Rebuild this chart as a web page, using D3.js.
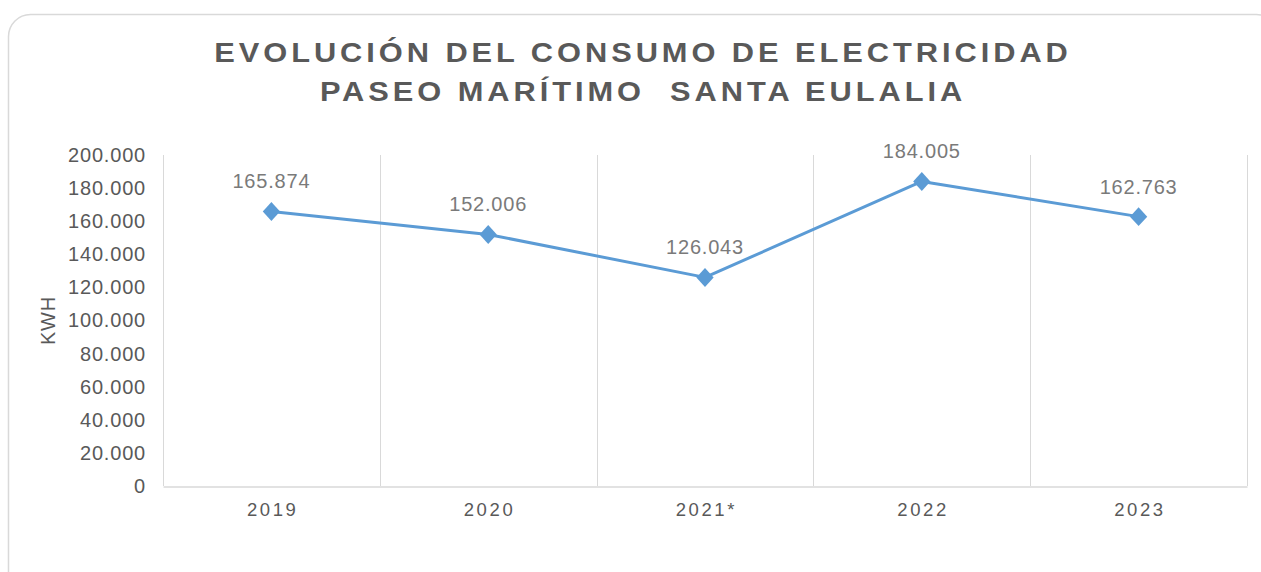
<!DOCTYPE html>
<html>
<head>
<meta charset="utf-8">
<script src="https://cdn.jsdelivr.net/npm/d3@7"></script>
<style>
  body { margin: 0; background: #fff; }
  svg { display: block; font-family: "Liberation Sans", Arial, sans-serif; }
</style>
</head>
<body>
<svg id="chart" width="1261" height="572"></svg>
<script>
// data
const years = ["2019", "2020", "2021*", "2022", "2023"];
const consumo = [165874, 152006, 126043, 184005, 162763];
const yTicks = [0, 20000, 40000, 60000, 80000, 100000, 120000, 140000, 160000, 180000, 200000];
const titleLines = ["EVOLUCIÓN DEL CONSUMO DE ELECTRICIDAD", "PASEO MARÍTIMO  SANTA EULALIA"];

const svg = d3.select("#chart");
const margin = { left: 163, right: 14, top: 155, bottom: 86 };
const W = 1261, H = 572;

// rounded outer frame
svg.append("rect")
    .attr("x", 8.5).attr("y", 14.5)
    .attr("width", 1270).attr("height", 600)
    .attr("rx", 22)
    .attr("fill", "#fff")
    .attr("stroke", "#d9d9d9")
    .attr("stroke-width", 1.5);

// title (glyphs are a bit wider than Liberation, so stretch horizontally)
const titleX = 643;
svg.append("g")
    .attr("transform", `translate(${titleX},0) scale(1.1,1)`)
    .append("text")
    .attr("y", 62)
    .attr("text-anchor", "middle")
    .attr("font-size", 28).attr("font-weight", "bold")
    .attr("letter-spacing", 3.6)
    .attr("fill", "#595959")
    .selectAll("tspan").data(titleLines).join("tspan")
    .attr("x", 0)
    .attr("dy", (d, i) => i === 0 ? 0 : 39)
    .style("white-space", "pre")
    .text(d => d);

const x = d3.scaleBand().domain(years).range([margin.left, W - margin.right]);
const y = d3.scaleLinear().domain([0, 200000]).range([H - margin.bottom, margin.top]);

const fmt = d3.formatLocale({ decimal: ",", thousands: ".", grouping: [3], currency: ["", ""] }).format(",");

// vertical gridlines at category boundaries
const bounds = years.map(d => x(d)).concat([x(years[years.length - 1]) + x.bandwidth()]);
svg.append("g").selectAll("line").data(bounds).join("line")
    .attr("x1", d => Math.round(d) + 0.5).attr("x2", d => Math.round(d) + 0.5)
    .attr("y1", y(200000)).attr("y2", y(0))
    .attr("stroke", "#d9d9d9").attr("stroke-width", 1);

// x axis
const xAxis = svg.append("g")
    .attr("transform", `translate(0,${Math.round(y(0)) + 0.5})`)
    .call(d3.axisBottom(x).tickSize(0).tickPadding(16));
xAxis.select(".domain").attr("stroke", "#d9d9d9").attr("stroke-width", 1.5);
xAxis.selectAll("text")
    .attr("font-size", 18.5).attr("fill", "#595959")
    .attr("letter-spacing", 2.6).attr("dx", 1.3)
    .attr("font-family", "Liberation Sans, Arial, sans-serif");

// y axis
const yAxis = svg.append("g")
    .attr("transform", `translate(${margin.left - 17},0)`)
    .call(d3.axisLeft(y).tickValues(yTicks).tickSize(0).tickPadding(0).tickFormat(d => fmt(d)));
yAxis.select(".domain").remove();
yAxis.selectAll("text")
    .attr("font-size", 20).attr("fill", "#595959")
    .attr("letter-spacing", 0.8)
    .attr("font-family", "Liberation Sans, Arial, sans-serif");

// y axis title
svg.append("text")
    .attr("transform", `translate(55,${(y(0) + y(200000)) / 2}) rotate(-90)`)
    .attr("text-anchor", "middle")
    .attr("font-size", 20).attr("fill", "#595959")
    .attr("letter-spacing", 0.8)
    .text("KWH");

const cx = d => x(d) + x.bandwidth() / 2;

// line
svg.append("path")
    .datum(consumo)
    .attr("fill", "none")
    .attr("stroke", "#5b9bd5")
    .attr("stroke-width", 3)
    .attr("stroke-linejoin", "round")
    .attr("d", d3.line().x((d, i) => cx(years[i])).y(d => y(d)));

// diamond markers
svg.append("g").selectAll("path").data(consumo).join("path")
    .attr("transform", (d, i) => `translate(${cx(years[i])},${y(d)}) scale(1,1.1)`)
    .attr("d", d3.symbol(d3.symbolDiamond2, 190)())
    .attr("fill", "#5b9bd5");

// data labels
svg.append("g").selectAll("text").data(consumo).join("text")
    .attr("x", (d, i) => cx(years[i]))
    .attr("y", d => y(d) - 23)
    .attr("text-anchor", "middle")
    .attr("font-size", 20).attr("fill", "#7a7a7a")
    .attr("letter-spacing", 0.8)
    .text(d => fmt(d));
</script>
</body>
</html>
